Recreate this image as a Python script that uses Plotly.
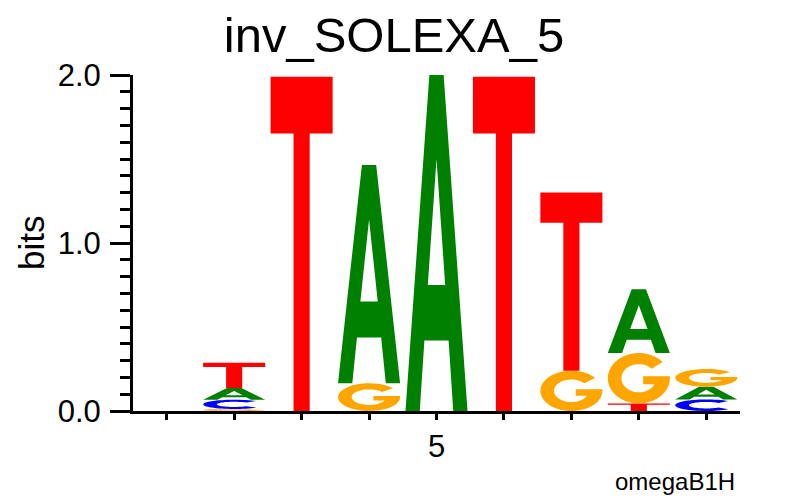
import numpy as np
import plotly.graph_objects as go

# sequence logo, information content (bits) per letter and position
positions = [1, 2, 3, 4, 5, 6, 7, 8, 9]
bits_A = [0.0, 0.070, 0.0, 1.300, 2.000, 0.0, 0.0, 0.380, 0.076]
bits_C = [0.0, 0.055, 0.0, 0.0, 0.0, 0.0, 0.0, 0.0, 0.069]
bits_G = [0.0, 0.012, 0.0, 0.165, 0.0, 0.0, 0.240, 0.300, 0.105]
bits_T = [0.0, 0.150, 1.990, 0.0, 0.0, 1.990, 1.060, 0.045, 0.0]
tick_text = ["", "", "", "", "5", "", "", "", ""]

colors = {"A": "#008000", "C": "#0000ff", "G": "#ffa500", "T": "#ff0000"}
font = "Liberation Sans, Arial, Helvetica, sans-serif"


def arc(rx, ry, a0, a1, n=48):
    t = np.radians(np.linspace(a0, a1, n))
    return list(zip(0.5 + rx * np.cos(t), 0.5 + ry * np.sin(t)))


# letter outlines in a unit box
g_start = np.degrees(np.arcsin((0.38 - 0.5) / 0.28))
glyphs = {
    "T": [[(0, 1), (1, 1), (1, 0.83), (0.63, 0.83), (0.63, 0), (0.37, 0), (0.37, 0.83), (0, 0.83)]],
    "A": [[(0, 0), (0.385, 1), (0.615, 1), (1, 0), (0.77, 0), (0.695, 0.21), (0.305, 0.21), (0.23, 0)],
          [(0.36, 0.375), (0.5, 0.75), (0.64, 0.375)]],
    "C": [arc(0.5, 0.5, 45, 315) + arc(0.28, 0.28, 315, 45)],
    "G": [arc(0.5, 0.5, 40, 360) + [(1.0, 0.54), (0.57, 0.54), (0.57, 0.38)]
          + arc(0.28, 0.28, g_start, -318)],
}


def letter_path(letter, xc, y0, h, hw=0.46):
    parts = []
    for poly in glyphs[letter]:
        pts = ["%.4f,%.5f" % (xc - hw + gx * 2 * hw, y0 + gy * h) for gx, gy in poly]
        parts.append("M " + " L ".join(pts) + " Z")
    return " ".join(parts)


shapes = []
totals = []
for i, pos in enumerate(positions):
    col = {"A": bits_A[i], "C": bits_C[i], "G": bits_G[i], "T": bits_T[i]}
    y = 0.0
    for letter, h in sorted(col.items(), key=lambda kv: kv[1]):
        if h <= 0:
            continue
        shapes.append(dict(type="path", xref="x", yref="y", path=letter_path(letter, pos, y, h),
                           fillcolor=colors[letter], fillrule="evenodd", line=dict(width=0)))
        y += h
    totals.append(y)

fig = go.Figure(go.Scatter(x=positions, y=totals, mode="markers",
                           marker=dict(opacity=0), showlegend=False))

fig.update_layout(
    width=788, height=496,
    margin=dict(l=133, r=48, t=75, b=85),
    plot_bgcolor="white", paper_bgcolor="white",
    shapes=shapes,
    font=dict(family=font, color="black"),
    title=dict(text="inv_SOLEXA_5", font=dict(size=49), x=0.5, xref="container",
               y=0.93, yref="container", yanchor="middle"),
)
fig.update_xaxes(range=[0.5, 9.5], tickmode="array", tickvals=positions, ticktext=tick_text,
                 ticks="outside", ticklen=6, tickwidth=3, tickcolor="black",
                 showline=True, linewidth=3, linecolor="black",
                 showgrid=False, zeroline=False, tickfont=dict(size=31))
fig.update_yaxes(range=[0, 2], tickmode="array", tickvals=[0, 1, 2], ticktext=["0.0", "1.0", "2.0"],
                 ticks="outside", ticklen=20, tickwidth=3, tickcolor="black",
                 minor=dict(dtick=0.1, tick0=0, ticks="outside", ticklen=10, tickwidth=3,
                            tickcolor="black", showgrid=False),
                 showline=True, linewidth=3, linecolor="black", ticklabelstandoff=3,
                 showgrid=False, zeroline=False, tickfont=dict(size=31))

fig.add_annotation(text="bits", textangle=-90, x=(31 - 133) / 607, y=0.5,
                   xref="paper", yref="paper", xanchor="center", yanchor="middle",
                   showarrow=False, font=dict(size=35))
fig.add_annotation(text="omegaB1H", x=(737 - 133) / 607, y=(411 - 481) / 336,
                   xref="paper", yref="paper", xanchor="right", yanchor="middle",
                   showarrow=False, font=dict(size=24))

fig.write_html("out.html", config={"displayModeBar": False},
               post_script="document.body.style.margin='0';")
